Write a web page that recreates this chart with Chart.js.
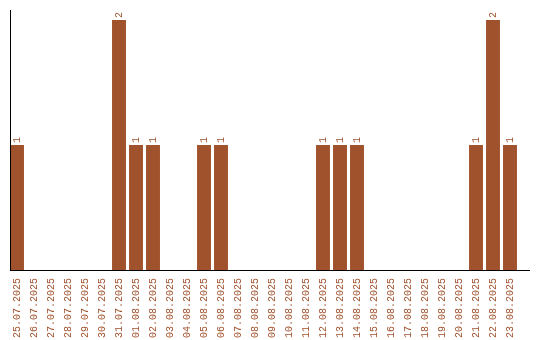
<!DOCTYPE html>
<html>
<head>
  <meta charset="utf-8">
  <title>Daily count</title>
  <script src="https://cdn.jsdelivr.net/npm/chart.js"></script>
  <style>
    body { margin: 0; padding: 0; background: #fff; }
    #wrap { width: 540px; height: 340px; position: relative; }
  </style>
</head>
<body>
  <div id="wrap"><canvas id="myChart"></canvas></div>

  <script>
    // data
    const days = [
      '25.07.2025', '26.07.2025', '27.07.2025', '28.07.2025', '29.07.2025', '30.07.2025',
      '31.07.2025', '01.08.2025', '02.08.2025', '03.08.2025', '04.08.2025', '05.08.2025',
      '06.08.2025', '07.08.2025', '08.08.2025', '09.08.2025', '10.08.2025', '11.08.2025',
      '12.08.2025', '13.08.2025', '14.08.2025', '15.08.2025', '16.08.2025', '17.08.2025',
      '18.08.2025', '19.08.2025', '20.08.2025', '21.08.2025', '22.08.2025', '23.08.2025'
    ];
    const counts = [
      1, 0, 0, 0, 0, 0,
      2, 1, 1, 0, 0, 1,
      1, 0, 0, 0, 0, 0,
      1, 1, 1, 0, 0, 0,
      0, 0, 0, 1, 2, 1
    ];

    const barColor = '#a0522d';
    const monoFamily = '"Liberation Mono", "DejaVu Sans Mono", monospace';

    // value labels on top of the bars, rotated
    const valueLabels = {
      id: 'valueLabels',
      afterDatasetsDraw(chart) {
        const ctx = chart.ctx;
        const meta = chart.getDatasetMeta(0);
        ctx.save();
        ctx.fillStyle = barColor;
        ctx.font = '10px ' + monoFamily;
        meta.data.forEach((bar, i) => {
          if (!counts[i]) return;
          ctx.save();
          ctx.translate(bar.x, bar.y - 2);
          ctx.rotate(-Math.PI / 2);
          ctx.textAlign = 'left';
          ctx.textBaseline = 'middle';
          ctx.fillText(String(counts[i]), 0, 0);
          ctx.restore();
        });
        ctx.restore();
      }
    };

    // plain black axis lines
    const axisLines = {
      id: 'axisLines',
      afterDraw(chart) {
        const ctx = chart.ctx;
        const a = chart.chartArea;
        ctx.save();
        ctx.strokeStyle = '#000';
        ctx.lineWidth = 1;
        ctx.beginPath();
        ctx.moveTo(10.5, a.top);
        ctx.lineTo(10.5, a.bottom);
        ctx.moveTo(10, a.bottom + 0.5);
        ctx.lineTo(530, a.bottom + 0.5);
        ctx.stroke();
        ctx.restore();
      }
    };

    const ctx = document.getElementById('myChart').getContext('2d');
    new Chart(ctx, {
      type: 'bar',
      data: {
        labels: days,
        datasets: [{
          data: counts,
          backgroundColor: barColor,
          borderWidth: 0,
          barPercentage: 0.82,
          categoryPercentage: 1
        }]
      },
      options: {
        responsive: true,
        maintainAspectRatio: false,
        animation: false,
        layout: { padding: { left: 8.5, right: 21.5, top: 10, bottom: 0 } },
        plugins: {
          legend: { display: false },
          tooltip: { enabled: false }
        },
        scales: {
          x: {
            grid: { display: false },
            border: { display: false },
            afterFit(scale) { scale.height = 70; },
            ticks: {
              autoSkip: false,
              minRotation: 90,
              maxRotation: 90,
              padding: 0,
              color: barColor,
              font: { family: monoFamily, size: 10 }
            }
          },
          y: {
            display: false,
            min: 0,
            max: 2.08
          }
        }
      },
      plugins: [valueLabels, axisLines]
    });
  </script>
</body>
</html>
